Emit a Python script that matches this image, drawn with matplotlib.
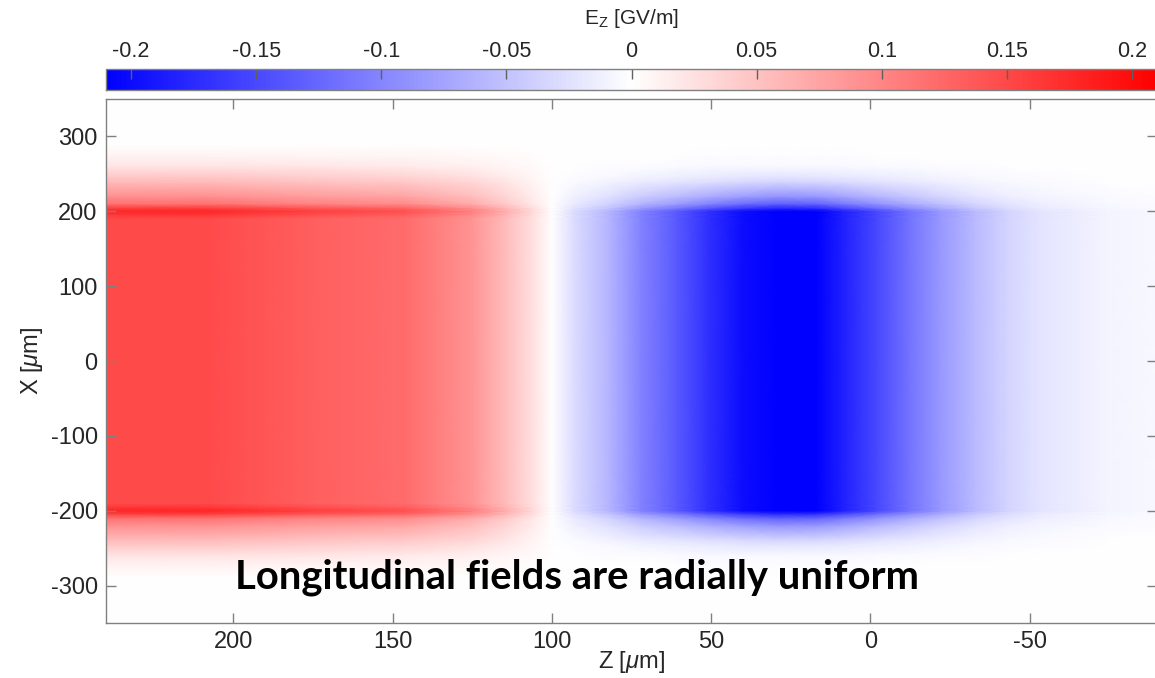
import numpy as np
import matplotlib
matplotlib.use('Agg')
import matplotlib.pyplot as plt
from matplotlib.colors import LinearSegmentedColormap

plt.rcParams['font.family'] = ['Liberation Sans', 'DejaVu Sans']
plt.rcParams['mathtext.fontset'] = 'custom'
plt.rcParams['mathtext.rm'] = 'Liberation Sans'
plt.rcParams['mathtext.it'] = 'Liberation Sans:italic'
plt.rcParams['axes.unicode_minus'] = False

# longitudinal field on axis, Ez [GV/m] vs Z [um]
z_pts = [240, 208, 177, 146, 125, 114, 106, 100, 93, 82, 72, 61, 51, 40,
         29, 17, 9, -2, -12, -22, -33, -43, -53, -74, -90]
ez_axis = [0.148, 0.148, 0.132, 0.120, 0.087, 0.054, 0.025, 0.0, -0.029,
           -0.062, -0.103, -0.136, -0.169, -0.200, -0.218, -0.212, -0.185,
           -0.150, -0.115, -0.085, -0.056, -0.036, -0.022, -0.009, -0.006]

# transverse shape (X >= 0, mirrored below the axis)
x_pts = [0, 150, 190, 196, 200, 204, 210, 220, 239, 246, 260, 273, 290, 350]
red_shape = [1.0, 1.0, 1.0, 1.12, 1.2, 1.08, 0.78, 0.62, 0.38, 0.30, 0.15,
             0.07, 0.0, 0.0]
blue_shape = [1.0, 1.0, 1.0, 1.0, 1.0, 0.82, 0.60, 0.40, 0.16, 0.10, 0.03,
              0.01, 0.0, 0.0]

cb_ticks = [-0.2, -0.15, -0.1, -0.05, 0, 0.05, 0.1, 0.15, 0.2]
cb_labels = ['-0.2', '-0.15', '-0.1', '-0.05', '0', '0.05', '0.1', '0.15', '0.2']
z_ticks = [200, 150, 100, 50, 0, -50]
x_ticks = [300, 200, 100, 0, -100, -200, -300]

# build the map
ez = np.array(ez_axis)
xs = np.array(x_pts, dtype=float)
xx = np.concatenate([-xs[:0:-1], xs])
shape_r = np.concatenate([np.array(red_shape)[:0:-1], red_shape])
shape_b = np.concatenate([np.array(blue_shape)[:0:-1], blue_shape])
E = np.where(ez[None, :] > 0, shape_r[:, None], shape_b[:, None]) * ez[None, :]
Zg, Xg = np.meshgrid(z_pts, xx)

cmap = LinearSegmentedColormap.from_list('bwr_m', ['#0000ff', '#ffffff', '#ff0000'])

fig = plt.figure(figsize=(11.55, 6.78), dpi=100)
ax = fig.add_axes([106/1155, 55/678, 1051/1155, 524/678])
cax = fig.add_axes([106/1155, 588/678, 1051/1155, 21/678])

mesh = ax.pcolormesh(Zg, Xg, E, shading='gouraud', cmap=cmap, vmin=-0.21, vmax=0.21)
ax.set_xlim(240, -90)
ax.set_ylim(-350, 350)
ax.set_xticks(z_ticks)
ax.set_yticks(x_ticks)
ax.tick_params(direction='in', length=7, width=1, color='#808080',
               labelsize=17, labelcolor='#262626', top=True, right=True, pad=6)
for sp in ax.spines.values():
    sp.set_color('#808080')
    sp.set_linewidth(1)
ax.set_xlabel('Z [$\\mu$m]', fontsize=17, color='#262626')
ax.set_ylabel('X [$\\mu$m]', fontsize=17, color='#262626')
ax.xaxis.set_label_coords(0.5, -0.050)
ax.yaxis.set_label_coords(-0.058, 0.5)

cb = fig.colorbar(mesh, cax=cax, orientation='horizontal')
cb.set_ticks(cb_ticks)
cb.set_ticklabels(cb_labels)
cax.xaxis.set_ticks_position('top')
cax.xaxis.set_label_position('top')
cax.tick_params(direction='in', length=7, width=1, color='#606060',
                labelsize=15.5, labelcolor='#262626', pad=5)
cb.outline.set_edgecolor('#808080')
cb.outline.set_linewidth(1)
cb.set_label('E$_\\mathrm{Z}$ [GV/m]', fontsize=15, color='#262626', labelpad=12)

fig.text(577/1155, 1 - 588/678, 'Longitudinal fields are radially uniform',
         family='Lato', fontweight='bold', fontsize=28.8, ha='center', va='baseline')

fig.savefig('out.png', dpi=100)
